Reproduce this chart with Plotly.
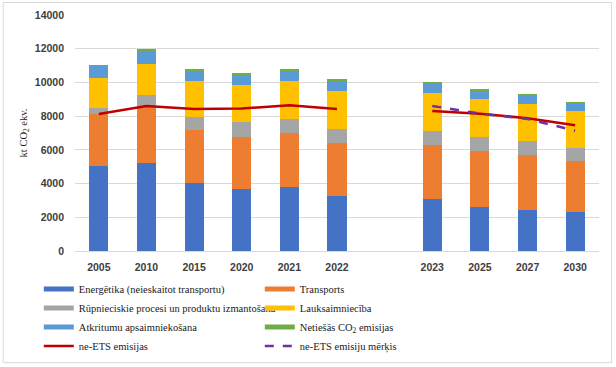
import plotly.graph_objects as go

categories = ["2005", "2010", "2015", "2020", "2021", "2022", " ", "2023", "2025", "2027", "2030"]

energetika = [5055, 5216, 4026, 3650, 3806, 3271, None, 3057, 2617, 2462, 2302]
transports = [3057, 3344, 3134, 3130, 3176, 3116, None, 3229, 3295, 3230, 3015]
rupnieciskie = [393, 700, 792, 856, 869, 869, None, 851, 868, 814, 809]
lauksaimnieciba = [1784, 1843, 2159, 2219, 2260, 2224, None, 2224, 2224, 2201, 2165]
atkritumi = [696, 792, 618, 595, 618, 613, None, 553, 512, 511, 452]
netiesas = [41, 59, 59, 60, 59, 59, None, 60, 42, 42, 42]
ne_ets = [8130, 8606, 8427, 8446, 8647, 8427, None, 8308, 8148, 7874, 7458]
ne_ets_merkis = [None, None, None, None, None, None, None, 8606, 8150, 7833, 7137]

bar_series = [
    ("Energētika (neieskaitot transportu)", energetika, "#4472C4"),
    ("Transports", transports, "#ED7D31"),
    ("Rūpnieciskie procesi un produktu izmantošana", rupnieciskie, "#A5A5A5"),
    ("Lauksaimniecība", lauksaimnieciba, "#FFC000"),
    ("Atkritumu apsaimniekošana", atkritumi, "#5B9BD5"),
    ("Netiešās CO<sub>2</sub> emisijas", netiesas, "#70AD47"),
]

fig = go.Figure()
for name, vals, col in bar_series:
    fig.add_trace(go.Bar(x=categories, y=vals, name=name, marker=dict(color=col, line=dict(width=0)),
                         showlegend=False, width=0.4))

fig.add_trace(go.Scatter(x=categories, y=ne_ets, mode="lines", name="ne-ETS emisijas",
                         line=dict(color="#C00000", width=2.5), connectgaps=False, showlegend=False))
fig.add_trace(go.Scatter(x=categories, y=ne_ets_merkis, mode="lines", name="ne-ETS emisiju mērķis",
                         line=dict(color="#7030A0", width=2.5, dash="dash"), connectgaps=False, showlegend=False))

# legend entries (wide line symbols as in the original)
for name, vals, col in bar_series:
    fig.add_trace(go.Scatter(x=[None], y=[None], mode="lines", name=name,
                             line=dict(color=col, width=5)))
fig.add_trace(go.Scatter(x=[None], y=[None], mode="lines", name="ne-ETS emisijas",
                         line=dict(color="#C00000", width=2.5)))
fig.add_trace(go.Scatter(x=[None], y=[None], mode="lines", name="ne-ETS emisiju mērķis",
                         line=dict(color="#7030A0", width=2.5, dash="dash")))

fig.update_layout(
    width=616, height=367,
    barmode="stack",
    plot_bgcolor="white", paper_bgcolor="white",
    margin=dict(l=75, r=17, t=15, b=116, autoexpand=False),
    font=dict(family="Liberation Serif", color="#262626"),
    legend=dict(orientation="h", xref="container", yref="container", x=0.063, xanchor="left",
                y=0.252, yanchor="top",
                entrywidth=176, font=dict(family="Liberation Serif", size=10.5, color="#1a1a1a"),
                bgcolor="rgba(0,0,0,0)", traceorder="normal"),
    xaxis=dict(type="category", categoryorder="array", categoryarray=categories,
               tickfont=dict(family="Liberation Sans", size=10.5, color="#404040", weight="bold"),
               showgrid=False, showline=False, ticks="", ticklabelstandoff=8),
    yaxis=dict(range=[0, 14000], dtick=2000, tickformat="d", showgrid=True, gridcolor="#D9D9D9", gridwidth=1,
               zeroline=True, zerolinecolor="#D9D9D9", zerolinewidth=1,
               tickfont=dict(family="Liberation Sans", size=10.5, color="#404040", weight="bold"),
               ticklabelstandoff=10,
               title=dict(text="kt CO<sub>2</sub> ekv.", font=dict(family="Liberation Serif", size=10.5, color="#1a1a1a"),
                          standoff=5)),
    shapes=[dict(type="rect", xref="paper", yref="paper", x0=-0.137, x1=1.024, y0=-0.473, y1=1.053,
                 line=dict(color="#D9D9D9", width=1), fillcolor="rgba(0,0,0,0)", layer="below")],
)

fig.write_html("out.html", config={"displayModeBar": False},
               post_script="document.body.style.margin='0';document.body.style.overflow='hidden';")
